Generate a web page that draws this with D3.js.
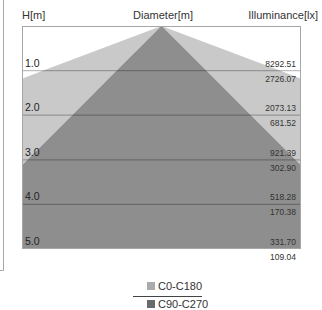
<!DOCTYPE html>
<html><head><meta charset="utf-8">
<script src="https://cdn.jsdelivr.net/npm/d3@7"></script>
<style>body{margin:0;background:#fff}svg{display:block}</style>
</head><body>
<script>
const heights = [1.0, 2.0, 3.0, 4.0, 5.0];
const heightLabels = ["1.0", "2.0", "3.0", "4.0", "5.0"];
const illumUpper = ["8292.51", "2073.13", "921.39", "518.28", "331.70"];
const illumLower = ["2726.07", "681.52", "302.90", "170.38", "109.04"];
const diamC0 = [5.30, 10.60, 15.90, 21.20, 26.50];
const diamC90 = [2.00, 4.00, 6.00, 8.00, 10.00];
const seriesNames = ["C0-C180", "C90-C270"];
const seriesColors = ["#c9c9c9", "#8e8e8e"];
const legendColors = ["#ababab", "#6a6a6a"];

const W = 322, H = 310;
const L = 22, R = 301, T = 26, B = 249;
const svg = d3.select("body").append("svg").attr("width", W).attr("height", H);

const y = d3.scaleLinear().domain([0, 5]).range([T, B]);
const pxPerM = (B - T) / 5;
const halfW = (R - L) / 2 / pxPerM;
const x = d3.scaleLinear().domain([-halfW, halfW]).range([L, R]);

// left box edge
svg.append("path").attr("d", `M3.5,0V270.5H0`).attr("fill", "none").attr("stroke", "#a8a8a8");

svg.append("defs").append("clipPath").attr("id", "clip")
  .append("rect").attr("x", L).attr("y", T).attr("width", R - L).attr("height", B - T);

const g = svg.append("g").attr("clip-path", "url(#clip)");
const area = d3.area().y(d => y(d.h)).x0(d => x(-d.d / 2)).x1(d => x(d.d / 2));
[diamC0, diamC90].forEach((arr, i) => {
  const pts = [{h: 0, d: 0}].concat(heights.map((h, k) => ({h: h, d: arr[k]})));
  g.append("path").attr("d", area(pts)).attr("fill", seriesColors[i]);
});

// horizontal lines
heights.slice(0, 4).forEach(h => {
  svg.append("line").attr("x1", L).attr("x2", R).attr("y1", y(h)).attr("y2", y(h))
    .attr("stroke", "#000").attr("stroke-opacity", 0.25).attr("stroke-width", 1.2);
});
svg.append("rect").attr("x", L + 0.5).attr("y", T + 0.5).attr("width", R - L - 1).attr("height", B - T - 1)
  .attr("fill", "none").attr("stroke", "#a6a6a6");

const font = "Liberation Sans, Arial, sans-serif";
svg.append("text").attr("x", 22).attr("y", 19).text("H[m]")
  .attr("font-family", font).attr("font-size", 11).attr("fill", "#333");
svg.append("text").attr("x", 163).attr("y", 19).attr("text-anchor", "middle").text("Diameter[m]")
  .attr("font-family", font).attr("font-size", 11).attr("fill", "#333");
svg.append("text").attr("x", 318).attr("y", 19).attr("text-anchor", "end").text("Illuminance[lx]")
  .attr("font-family", font).attr("font-size", 11).attr("fill", "#333");

heights.forEach((h, k) => {
  svg.append("text").attr("x", 25).attr("y", y(h) - 4).text(heightLabels[k])
    .attr("font-family", font).attr("font-size", 10.5).attr("fill", "#222");
  svg.append("text").attr("x", 296).attr("y", y(h) - 4).attr("text-anchor", "end").text(illumUpper[k])
    .attr("font-family", font).attr("font-size", 8.5).attr("fill", "#333");
  svg.append("text").attr("x", 296).attr("y", y(h) + 11).attr("text-anchor", "end").text(illumLower[k])
    .attr("font-family", font).attr("font-size", 8.5).attr("fill", "#333");
});

// legend
const ly = [282, 300];
seriesNames.forEach((n, i) => {
  svg.append("rect").attr("x", 147).attr("y", ly[i]).attr("width", 8).attr("height", 8).attr("fill", legendColors[i]);
  svg.append("text").attr("x", 158).attr("y", ly[i] + 8).text(n)
    .attr("font-family", font).attr("font-size", 11).attr("fill", "#333");
});
svg.append("line").attr("x1", 133).attr("x2", 202).attr("y1", 296.5).attr("y2", 296.5).attr("stroke", "#444");
</script>
</body></html>
